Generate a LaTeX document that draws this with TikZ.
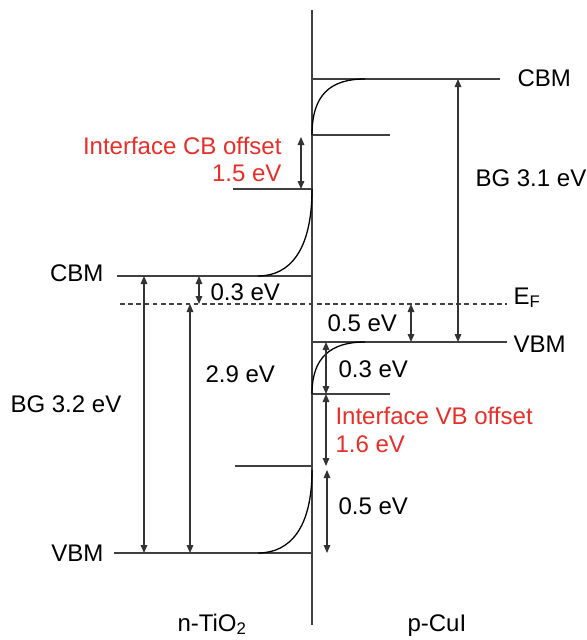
\documentclass[tikz,border=0pt]{standalone}
\usepackage{fontspec}
\setmainfont{Liberation Sans}
\usetikzlibrary{arrows.meta}
\definecolor{offsetred}{RGB}{232,46,40}
\begin{document}
\begin{tikzpicture}
[x=0.03cm, y=-0.03cm, font=\fontsize{20.5}{24}\selectfont, line width=0.9pt]
\tikzstyle{level}=[draw=black!75]
\tikzstyle{fermi}=[draw=black!75, dash pattern=on 4pt off 3pt]
\tikzstyle{band}=[draw=black, line width=1.1pt]
\tikzstyle{gap}=[draw=black!80, {Triangle[length=2.4mm,width=2mm]}-{Triangle[length=2.4mm,width=2mm]}]
\tikzstyle{txt}=[inner sep=0pt, anchor=base west]
\tikzstyle{rtxt}=[inner sep=0pt, anchor=base east]
\useasboundingbox (0,0) rectangle (587,640);

% interface
\coordinate (IFt) at (312,10);
\coordinate (IFb) at (312,625);
\draw [level] (IFt)--(IFb);

% n-TiO2 levels
\coordinate (CBnl) at (117,276);	\coordinate (CBni) at (312,276);
\coordinate (VBnl) at (114,553);	\coordinate (VBni) at (312,553);
\coordinate (CBnsl) at (233,189);	\coordinate (CBnsi) at (312,189);
\coordinate (VBnsl) at (235,466);	\coordinate (VBnsi) at (312,466);
% p-CuI levels
\coordinate (CBpi) at (312,79);	\coordinate (CBpr) at (500,79);
\coordinate (VBpi) at (312,342);	\coordinate (VBpr) at (507,342);
\coordinate (CBpsi) at (312,135);	\coordinate (CBpsr) at (390,135);
\coordinate (VBpsi) at (312,394);	\coordinate (VBpsr) at (390,394);
% Fermi level
\coordinate (EFl) at (120,304);	\coordinate (EFr) at (507,304);

\draw [level] (CBnl)--(CBni);
\draw [level] (VBnl)--(VBni);
\draw [level] (CBnsl)--(CBnsi);
\draw [level] (VBnsl)--(VBnsi);
\draw [level] (CBpi)--(CBpr);
\draw [level] (VBpi)--(VBpr);
\draw [level] (CBpsi)--(CBpsr);
\draw [level] (VBpsi)--(VBpsr);
\draw [fermi] (EFl)--(EFr);

% band bending
\draw [band] (CBpsi) .. controls (312,95) and (330,79) .. (365,79);
\draw [band] (CBnsi) .. controls (312,250) and (290,276) .. (258,276);
\draw [band] (VBpsi) .. controls (312,358) and (330,342) .. (365,342);
\draw [band] (312,470) .. controls (312,528) and (290,553) .. (258,553);

% gaps and offsets
\coordinate (BGnt) at (144,276);	\coordinate (BGnb) at (144,553);
\coordinate (EFnt) at (190,304);	\coordinate (EFnb) at (190,553);
\coordinate (CBft) at (199,276);	\coordinate (CBfb) at (199,304);
\coordinate (CBot) at (301,137);	\coordinate (CBob) at (301,189);
\coordinate (BGpt) at (458,79);	\coordinate (BGpb) at (458,342);
\coordinate (VBft) at (411,304);	\coordinate (VBfb) at (411,342);
\coordinate (VBbt) at (326,342);	\coordinate (VBbb) at (326,394);
\coordinate (VBot) at (326,394);	\coordinate (VBob) at (326,466);
\coordinate (VBnt) at (327,470);	\coordinate (VBnb) at (327,553);

\draw [gap] (BGnt)--(BGnb);
\draw [gap] (EFnt)--(EFnb);
\draw [gap] (CBft)--(CBfb);
\draw [gap] (CBot)--(CBob);
\draw [gap] (BGpt)--(BGpb);
\draw [gap] (VBft)--(VBfb);
\draw [gap] (VBbt)--(VBbb);
\draw [gap] (VBot)--(VBob);
\draw [gap] (VBnt)--(VBnb);

% labels
\node [rtxt] (CBMn) at (104,281) {CBM};
\node [rtxt] (VBMn) at (104,561) {VBM};
\node [txt] (CBMp) at (517,86) {CBM};
\node [txt] (VBMp) at (513,352) {VBM};
\node [txt] (EF) at (513,304) {E\textsubscript{F}};
\node [rtxt, text=offsetred] (CBoff) at (282,154) {Interface CB offset};
\node [rtxt, text=offsetred] (CBoffv) at (282,181) {1.5 eV};
\node [txt] (BGp) at (475,186) {BG 3.1 eV};
\node [txt] (CBfv) at (210,300) {0.3 eV};
\node [txt] (VBfv) at (327,331) {0.5 eV};
\node [txt] (BGn) at (10,412) {BG 3.2 eV};
\node [txt] (EFnv) at (205,382) {2.9 eV};
\node [txt] (VBbv) at (338,377) {0.3 eV};
\node [txt, text=offsetred] (VBoff) at (335,424) {Interface VB offset};
\node [txt, text=offsetred] (VBoffv) at (335,452) {1.6 eV};
\node [txt] (VBnv) at (338,514) {0.5 eV};
\node [txt] (TiO) at (177,631) {n-TiO\textsubscript{2}};
\node [txt] (CuI) at (407,631) {p-CuI};

\end{tikzpicture}
\end{document}
